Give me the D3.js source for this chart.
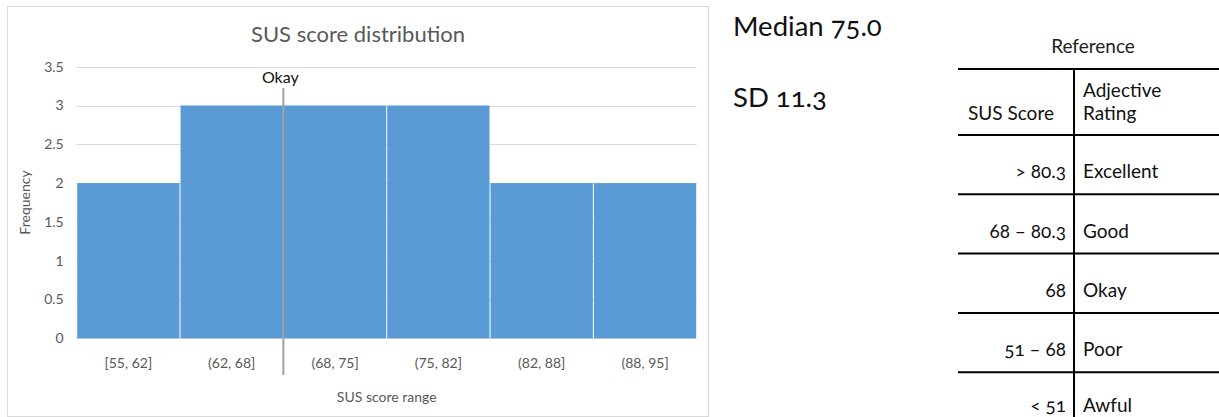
<!DOCTYPE html>
<html>
<head>
<meta charset="utf-8">
<script src="https://cdn.jsdelivr.net/npm/d3@7"></script>
<style>
  html, body { margin: 0; padding: 0; background: #fff; }
  svg { display: block; }
  .chart text { font-family: Lato, "Open Sans", sans-serif; }
  .side text { font-family: Lato, "Open Sans", sans-serif; font-variant-numeric: oldstyle-nums; }
</style>
</head>
<body>
<script>
// Histogram bins and counts
const binLabels = ["[55, 62]", "(62, 68]", "(68, 75]", "(75, 82]", "(82, 88]", "(88, 95]"];
const binUpper = [62, 68, 75, 82, 88, 95];
const frequency = [2, 3, 3, 3, 2, 2];
const yTicks = [0, 0.5, 1, 1.5, 2, 2.5, 3, 3.5];

// Reference marker on the histogram
const markerLabel = "Okay";
const markerScore = 68;

// Summary statistics
const statLabels = ["Median", "SD"];
const statValues = ["75.0", "11.3"];

// SUS adjective rating table
const tableTitle = "Reference";
const tableHeader = [["SUS Score"], ["Adjective", "Rating"]];
const scoreRanges = ["> 80.3", "68 \u2013 80.3", "68", "51 \u2013 68", "< 51"];
const ratings = ["Excellent", "Good", "Okay", "Poor", "Awful"];

const W = 1219, H = 417;
const svg = d3.select("body").append("svg").attr("width", W).attr("height", H);

// ---------- histogram ----------
const chart = svg.append("g").attr("class", "chart");
const frame = { x: 7.5, y: 6.5, w: 701, h: 410 };
const plot = { left: 76.7, right: 696.7, top: 66.7, bottom: 338.3 };

chart.append("rect")
  .attr("x", frame.x).attr("y", frame.y).attr("width", frame.w).attr("height", frame.h)
  .attr("fill", "#fff").attr("stroke", "#d9d9d9").attr("stroke-width", 1);

chart.append("text")
  .attr("x", frame.x + frame.w / 2).attr("y", 42)
  .attr("text-anchor", "middle").attr("font-size", 22).attr("fill", "#595959")
  .text("SUS score distribution");

const x = d3.scaleBand().domain(binLabels).range([plot.left, plot.right]).padding(0);
const y = d3.scaleLinear().domain([0, 3.5]).range([plot.bottom, plot.top]);

// horizontal gridlines
chart.append("g").selectAll("line").data(yTicks).join("line")
  .attr("x1", plot.left).attr("x2", plot.right)
  .attr("y1", d => Math.round(y(d)) + 0.5).attr("y2", d => Math.round(y(d)) + 0.5)
  .attr("stroke", "#d9d9d9").attr("stroke-width", 1);

// y axis labels
const yAxis = d3.axisLeft(y).tickValues(yTicks).tickSize(0).tickPadding(0)
  .tickFormat(d3.format("~g"));
chart.append("g").attr("transform", `translate(${plot.left - 13},0)`).call(yAxis)
  .call(g => g.select(".domain").remove())
  .call(g => g.selectAll("text").attr("font-size", 14).attr("fill", "#595959")
    .attr("font-family", "Lato, 'Open Sans', sans-serif"));

// bars
chart.append("g").selectAll("rect").data(frequency).join("rect")
  .attr("x", (d, i) => x(binLabels[i]) + 0.5)
  .attr("y", d => y(d))
  .attr("width", x.bandwidth() - 1)
  .attr("height", d => y(0) - y(d))
  .attr("fill", "#5b9bd5");

// x axis labels
const xAxis = d3.axisBottom(x).tickSize(0).tickPadding(0);
chart.append("g").attr("transform", `translate(0,${plot.bottom + 20})`).call(xAxis)
  .call(g => g.select(".domain").remove())
  .call(g => g.selectAll("text").attr("font-size", 14).attr("fill", "#595959")
    .attr("font-family", "Lato, 'Open Sans', sans-serif"));

// axis titles
chart.append("text")
  .attr("x", (plot.left + plot.right) / 2).attr("y", 402)
  .attr("text-anchor", "middle").attr("font-size", 14).attr("fill", "#595959")
  .text("SUS score range");
chart.append("text")
  .attr("transform", `translate(30,${(plot.top + plot.bottom) / 2}) rotate(-90)`)
  .attr("text-anchor", "middle").attr("font-size", 14).attr("fill", "#595959")
  .text("Frequency");

// marker line sits on the bin edge equal to the marker score
const markerIdx = binUpper.indexOf(markerScore);
const mx = x(binLabels[markerIdx]) + x.bandwidth();
chart.append("line")
  .attr("x1", mx).attr("x2", mx).attr("y1", 88).attr("y2", 375)
  .attr("stroke", "#a0a0a0").attr("stroke-width", 2);
chart.append("text")
  .attr("x", mx - 3).attr("y", 83)
  .attr("text-anchor", "middle").attr("font-size", 16).attr("fill", "#111")
  .text(markerLabel);

// ---------- statistics and reference table ----------
const side = svg.append("g").attr("class", "side");

side.selectAll("text.stat").data(statLabels).join("text")
  .attr("class", "stat")
  .attr("x", 733).attr("y", (d, i) => 36 + i * 71)
  .attr("font-size", 27.5).attr("fill", "#111")
  .text((d, i) => `${d} ${statValues[i]}`);

const tbl = { left: 958, right: W, top: 69, headBottom: 135, rowH: 59.3, split: 1074 };

side.append("text")
  .attr("x", 1093).attr("y", 53).attr("text-anchor", "middle")
  .attr("font-size", 19).attr("fill", "#222").text(tableTitle);

const rowBottoms = ratings.map((r, i) => tbl.headBottom + (i + 1) * tbl.rowH);
const hLines = [tbl.top, tbl.headBottom].concat(rowBottoms.slice(0, -1));

side.append("g").selectAll("line").data(hLines).join("line")
  .attr("x1", tbl.left).attr("x2", tbl.right)
  .attr("y1", d => d).attr("y2", d => d)
  .attr("stroke", "#000").attr("stroke-width", 2);
side.append("line")
  .attr("x1", tbl.split).attr("x2", tbl.split).attr("y1", tbl.top).attr("y2", H)
  .attr("stroke", "#000").attr("stroke-width", 2);

// header cells
side.append("text").attr("x", tbl.left + 10).attr("y", 120)
  .attr("font-size", 19).attr("fill", "#111").text(tableHeader[0][0]);
side.append("g").selectAll("text").data(tableHeader[1]).join("text")
  .attr("x", tbl.split + 9).attr("y", (d, i) => 97 + i * 23)
  .attr("font-size", 19).attr("fill", "#111").text(d => d);

// body rows; the last row is clipped by the page bottom, so keep it just inside
const rowBase = i => Math.min(rowBottoms[i] - 16, H - 5);
side.append("g").selectAll("text").data(scoreRanges).join("text")
  .attr("x", tbl.split - 8).attr("y", (d, i) => rowBase(i))
  .attr("text-anchor", "end").attr("font-size", 19).attr("fill", "#111").text(d => d);
side.append("g").selectAll("text").data(ratings).join("text")
  .attr("x", tbl.split + 9).attr("y", (d, i) => rowBase(i))
  .attr("font-size", 19).attr("fill", "#111").text(d => d);
</script>
</body>
</html>
